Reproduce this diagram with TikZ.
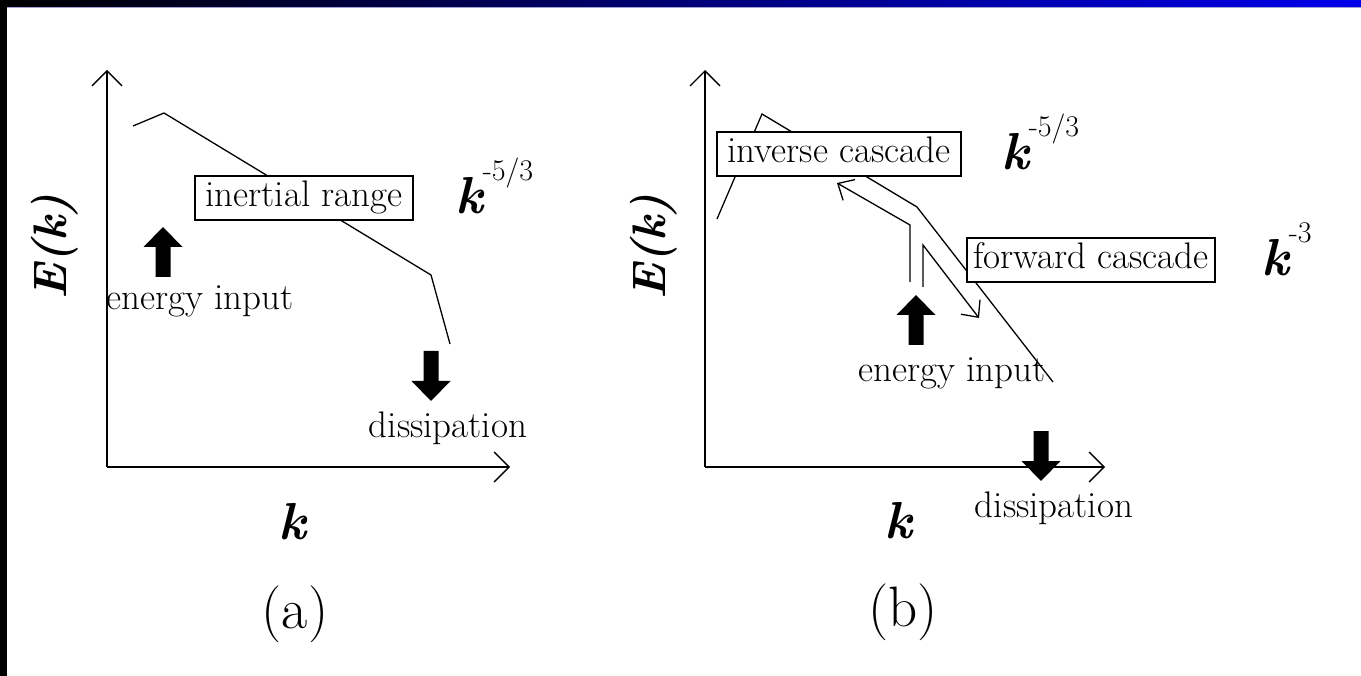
\documentclass[tikz,border=0pt]{standalone}
\usetikzlibrary{arrows.meta}
\tikzset{
  ln/.style={line width=1.3pt, line join=miter},
  axisarrow/.style={ln, -{Straight Barb[length=15pt,width=30pt]}},
  casc/.style={ln, -{Straight Barb[length=13pt,width=24pt]}},
  lab/.style={font=\fontsize{37}{44}\selectfont, inner sep=0pt},
  boxlab/.style={draw, fill=white, line width=1.3pt, font=\fontsize{37}{44}\selectfont,
    inner xsep=0pt, inner ysep=0pt, text height=27pt, text depth=9pt, minimum height=44pt},
  bigk/.style={font=\fontsize{52}{60}\selectfont\bfseries\itshape, inner sep=0pt},
  ek/.style={font=\fontsize{47}{54}\selectfont\bfseries\itshape, inner sep=0pt, rotate=90},
  panel/.style={font=\fontsize{57}{64}\selectfont, inner sep=0pt},
  pics/blockarrow/.style={code={
    \fill (0,0) -- (19.5,20) -- (7.5,20) -- (7.5,50) -- (-7.5,50) -- (-7.5,20) -- (-19.5,20) -- cycle;
  }}
}
\newcommand{\kpow}[1]{k\raisebox{33pt}{\fontsize{30}{34}\selectfont\mdseries\upshape #1}}
\begin{document}
\begin{tikzpicture}[x=1pt,y=-1pt]
\useasboundingbox (0,0) rectangle (1361,676);
\fill[white] (0,0) rectangle (1361,676);
% frame decorations
\shade[left color=black, right color={rgb,255:red,0;green,0;blue,235}] (0,0) rectangle (1361,7);
\draw[line width=1pt, color={rgb,255:red,160;green,160;blue,210}] (7,7.5) -- (1361,7.5);
\fill[black] (0,0) rectangle (7,676);

% ---------------- panel (a) ----------------
\coordinate (oa) at (107,467);
\coordinate (ya) at (107,70);
\coordinate (xa) at (510,467);
\draw[axisarrow] (oa) -- (ya);
\draw[axisarrow] (oa) -- (xa);
\coordinate (a1) at (133,126);
\coordinate (a2) at (164,113);
\coordinate (a3) at (431,275);
\coordinate (a4) at (450,344);
\draw[ln] (a1) -- (a2) -- (a3) -- (a4);
\node[boxlab, minimum width=218pt] (inertial) at (304,198) {inertial range};
\node[bigk, anchor=base west] (ka53) at (455,214) {\kpow{-5/3}};
\pic at (163,227) {blockarrow};
\node[lab, anchor=base] (eina) at (200,310) {energy input};
\pic[rotate=180] at (431,401) {blockarrow};
\node[lab, anchor=base] (dissa) at (448,438) {dissipation};
\node[ek] (Eka) at (55,247) {E(k)};
\node[bigk, anchor=base] (ka) at (292,539) {k};
\node[panel] (pa) at (295,614) {(a)};

% ---------------- panel (b) ----------------
\coordinate (ob) at (705,467);
\coordinate (yb) at (705,70);
\coordinate (xb) at (1105,467);
\draw[axisarrow] (ob) -- (yb);
\draw[axisarrow] (ob) -- (xb);
\coordinate (b1) at (717,219);
\coordinate (b2) at (762,114);
\coordinate (b3) at (917,207);
\coordinate (b4) at (1053,382);
\draw[ln] (b1) -- (b2) -- (b3) -- (b4);
% cascade arrows
\coordinate (i0) at (910,282);
\coordinate (i1) at (910,225);
\coordinate (i2) at (837,183);
\draw[casc] (i0) -- (i1) -- (i2);
\coordinate (f0) at (923,287);
\coordinate (f1) at (923,245);
\coordinate (f2) at (979,318);
\draw[casc] (f0) -- (f1) -- (f2);
\node[boxlab, minimum width=244pt] (inverse) at (839,154) {inverse cascade};
\node[boxlab, minimum width=248pt] (forward) at (1091,260) {forward cascade};
\node[bigk, anchor=base west] (kb53) at (1001,170) {\kpow{-5/3}};
\node[bigk, anchor=base west] (kb3) at (1261,276) {\kpow{-3}};
\pic at (916,295) {blockarrow};
\node[lab, anchor=base] (einb) at (952,382) {energy input};
\pic[rotate=180] at (1041,481) {blockarrow};
\node[lab, anchor=base] (dissb) at (1054,517) {dissipation};
\node[ek] (Ekb) at (654,247) {E(k)};
\node[bigk, anchor=base] (kb) at (898,538) {k};
\node[panel] (pb) at (903,612) {(b)};
\end{tikzpicture}
\end{document}
